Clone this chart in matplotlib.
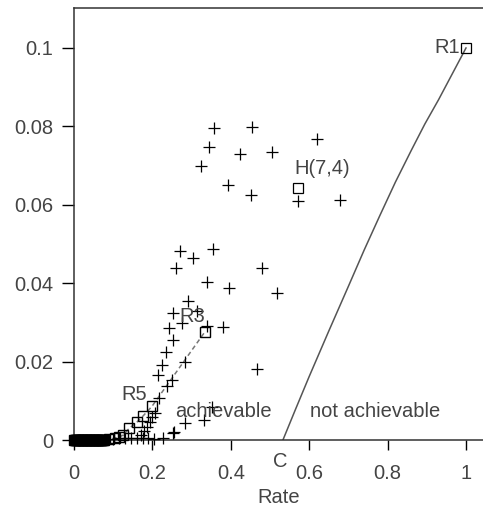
import matplotlib
matplotlib.use('Agg')
import matplotlib.pyplot as plt

plt.rcParams['font.family'] = ['Liberation Sans', 'DejaVu Sans']

# boundary curve from C to R1
curve_x = [0.533, 0.565, 0.60, 0.65, 0.70, 0.74, 0.78, 0.82, 0.86, 0.895, 0.93, 0.965, 1.0]
curve_y = [0.0, 0.0078, 0.0162, 0.0278, 0.0392, 0.0484, 0.0572, 0.0658, 0.0738, 0.0806, 0.0868, 0.0934, 0.1]

# squares joined by the dashed line (path to R3)
path_x = [0.0, 0.002, 0.004, 0.006, 0.008, 0.010, 0.012, 0.014, 0.016, 0.018, 0.02,
          0.022, 0.024, 0.026, 0.028, 0.03, 0.032, 0.034, 0.036, 0.038, 0.04,
          0.042, 0.044, 0.046, 0.048, 0.05, 0.052, 0.054, 0.056, 0.058, 0.06,
          0.062, 0.064, 0.066, 0.068, 0.07, 0.072, 0.074, 0.076,
          0.09, 0.105, 0.115, 0.125, 0.141, 0.16, 0.175, 0.199, 0.334]
path_y = [0.0, 0.0, 0.0, 0.0, 0.0, 0.0, 0.0, 0.0, 0.0, 0.0, 0.0,
          0.0, 0.0, 0.0, 0.0, 0.0, 0.0, 0.0, 0.0, 0.0, 0.0,
          0.0, 0.0, 0.0, 0.0, 0.0, 0.0, 0.0, 0.0, 0.0, 0.0,
          0.0, 0.0, 0.0, 0.0, 0.0, 0.0, 0.0, 0.0,
          0.0002, 0.0005, 0.0008, 0.0012, 0.003, 0.0045, 0.006, 0.0086, 0.0276]

# labelled points
R1 = (1.0, 0.1)
H74 = (0.571, 0.0643)

# random codes (plus markers)
plus_x = [0.357, 0.454, 0.344, 0.324, 0.423, 0.505, 0.620, 0.393, 0.452, 0.571, 0.679,
          0.270, 0.304, 0.355, 0.260, 0.480, 0.339, 0.396, 0.518, 0.291, 0.252, 0.313,
          0.275, 0.243, 0.380, 0.339, 0.253, 0.235, 0.224, 0.283, 0.214, 0.250, 0.237,
          0.217, 0.467, 0.253, 0.283, 0.332, 0.352, 0.207, 0.200, 0.195, 0.186, 0.178,
          0.170, 0.227, 0.255, 0.10, 0.115, 0.13, 0.145, 0.16, 0.175, 0.19, 0.205]
plus_y = [0.0796, 0.0798, 0.0747, 0.0699, 0.0730, 0.0735, 0.0768, 0.0651, 0.0625, 0.0610, 0.0612,
          0.0482, 0.0464, 0.0487, 0.0439, 0.0439, 0.0403, 0.0388, 0.0375, 0.0355, 0.0324, 0.0329,
          0.0298, 0.0286, 0.0288, 0.0290, 0.0255, 0.0224, 0.0191, 0.0199, 0.0166, 0.0153, 0.0138,
          0.0107, 0.0181, 0.0018, 0.0043, 0.0052, 0.0084, 0.0068, 0.0058, 0.0045, 0.0033, 0.0022,
          0.0012, 0.0005, 0.0020, 0.0003, 0.0004, 0.0005, 0.0006, 0.0006, 0.0004, 0.0004, 0.0003]

fig = plt.figure(figsize=(4.83, 5.14), dpi=100)
ax = fig.add_axes([74/483, 74/514, 409/483, 432/514])

txt = '#444444'

ax.plot(curve_x, curve_y, color='#555555', lw=1.1)
ax.plot(path_x, path_y, color='#777777', lw=1.1, ls='--', dashes=(3, 2))
ax.plot(path_x, path_y, ls='none', marker='s', ms=7, mfc='none', mec='black', mew=1.0,
        clip_on=False, zorder=3)
ax.plot(plus_x, plus_y, ls='none', marker='+', ms=9, color='black', mew=0.9,
        clip_on=False, zorder=3)
ax.plot([R1[0], H74[0]], [R1[1], H74[1]], ls='none', marker='s', ms=7,
        mfc='none', mec='black', mew=0.9)

ax.text(0.985, 0.1, 'R1', ha='right', va='center', fontsize=14.5, color=txt)
ax.text(0.562, 0.0692, 'H(7,4)', ha='left', va='center', fontsize=14.5, color=txt)
ax.text(0.27, 0.0316, 'R3', ha='left', va='center', fontsize=14.5, color=txt)
ax.text(0.12, 0.0117, 'R5', ha='left', va='center', fontsize=14.5, color=txt)
ax.text(0.258, 0.0073, 'achievable', ha='left', va='center', fontsize=14.5, color=txt)
ax.text(0.602, 0.0073, 'not achievable', ha='left', va='center', fontsize=14.5, color=txt)
ax.text(0.527, -0.0055, 'C', ha='center', va='center', fontsize=14.5, color=txt)

ax.set_xlim(0, 1.0434)
ax.set_ylim(0, 0.1102)
ax.set_xticks([0, 0.2, 0.4, 0.6, 0.8, 1.0])
ax.set_xticklabels(['0', '0.2', '0.4', '0.6', '0.8', '1'])
ax.set_yticks([0, 0.02, 0.04, 0.06, 0.08, 0.1])
ax.set_yticklabels(['0', '0.02', '0.04', '0.06', '0.08', '0.1'])
ax.tick_params(axis='x', direction='out', length=7, width=1, labelsize=14.5,
               labelcolor=txt, pad=10)
ax.tick_params(axis='y', direction='out', length=9, width=1, labelsize=14.5,
               labelcolor=txt, pad=6)
ax.set_xlabel('Rate', fontsize=14.5, color=txt, labelpad=4)
ax.spines['right'].set_visible(False)
for s in ['left', 'bottom', 'top']:
    ax.spines[s].set_color('#333333')
    ax.spines[s].set_linewidth(1.1)

fig.savefig('out.png', dpi=100)
